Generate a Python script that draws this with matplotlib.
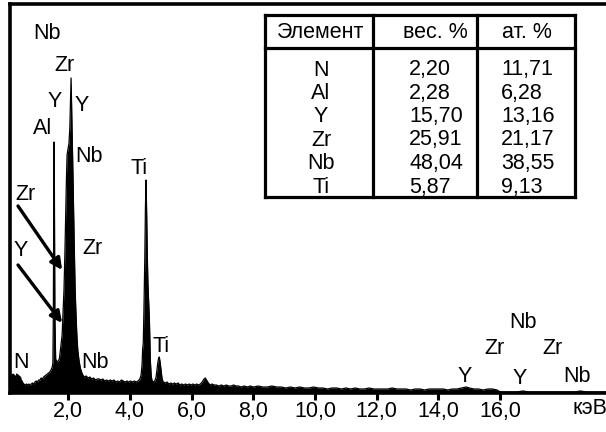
import numpy as np
import matplotlib.pyplot as plt
from matplotlib.patches import Rectangle
from matplotlib.lines import Line2D

plt.rcParams['font.family'] = ['Liberation Sans', 'DejaVu Sans']

# EDX spectrum, energy in keV, counts in arbitrary units
kev_low = [0.10, 0.11, 0.13, 0.15, 0.17, 0.19, 0.21, 0.23, 0.25, 0.27, 0.29, 0.31,
           0.33, 0.35, 0.37, 0.39, 0.41, 0.43, 0.45, 0.47, 0.50, 0.53, 0.56, 0.60,
           0.64, 0.68, 0.72, 0.76, 0.80, 0.84, 0.88, 0.92, 0.96, 1.00, 1.04, 1.08,
           1.12, 1.16, 1.20, 1.24, 1.28, 1.32, 1.36, 1.40, 1.44, 1.48]
cnt_low = [0, 14, 17, 14, 18, 15, 19, 16, 18, 14, 17, 15,
           19, 16, 18, 15, 17, 14, 16, 13, 12, 10, 9, 8,
           9, 8, 9, 8, 9, 10, 9, 11, 12, 11, 13, 13,
           15, 14, 16, 17, 18, 19, 20, 21, 23, 26]

# Al K and the Y/Zr/Nb L group
kev_lgroup = [1.50, 1.515, 1.53, 1.54, 1.55, 1.565, 1.59, 1.63, 1.67, 1.71, 1.74,
              1.77, 1.80, 1.83, 1.86, 1.89, 1.92, 1.94, 1.96, 1.99, 2.02, 2.05,
              2.07, 2.09, 2.105, 2.12, 2.14, 2.16, 2.19, 2.22, 2.25, 2.28, 2.31,
              2.35, 2.39, 2.43, 2.47, 2.52]
cnt_lgroup = [30, 76, 200, 251, 200, 76, 34, 31, 32, 34, 42,
              50, 58, 80, 103, 140, 185, 215, 238, 244, 249, 265,
              290, 315, 291, 265, 238, 203, 150, 105, 78, 56, 42,
              32, 25, 21, 18, 16]

kev_mid = [2.58, 2.64, 2.70, 2.76, 2.82, 2.88, 2.94, 3.00, 3.06, 3.12, 3.18, 3.24,
           3.30, 3.36, 3.42, 3.48, 3.54, 3.60, 3.66, 3.72, 3.78, 3.84, 3.90, 3.96,
           4.02, 4.08, 4.14, 4.20, 4.26, 4.32]
cnt_mid = [17, 15, 16, 14, 15, 13, 14, 14, 13, 14, 12, 13,
           12, 13, 12, 13, 11, 12, 11, 13, 12, 11, 12, 11,
           12, 11, 12, 11, 12, 14]

# Ti K alpha and K beta
kev_ti = [4.36, 4.39, 4.41, 4.43, 4.45, 4.48, 4.50, 4.52, 4.54, 4.56, 4.58, 4.61,
          4.63, 4.66, 4.69, 4.72, 4.76, 4.80, 4.84, 4.87, 4.90, 4.93, 4.95, 4.98,
          5.01, 5.04, 5.08]
cnt_ti = [18, 28, 44, 50, 80, 135, 185, 213, 180, 140, 110, 88,
          72, 32, 16, 12, 11, 12, 15, 22, 30, 35, 36, 30,
          22, 14, 11]

kev_high = [5.14, 5.20, 5.26, 5.32, 5.38, 5.44, 5.50, 5.56, 5.62, 5.68, 5.74, 5.80,
            5.86, 5.92, 5.98, 6.04, 6.10, 6.16, 6.22, 6.28, 6.34, 6.40, 6.44, 6.48,
            6.54, 6.60, 6.66, 6.72, 6.80, 6.88, 6.96, 7.04, 7.12, 7.20, 7.28, 7.36,
            7.44, 7.52, 7.60, 7.70, 7.80, 7.90, 8.00, 8.15, 8.30, 8.45, 8.60, 8.75,
            8.90, 9.05, 9.20, 9.35, 9.50, 9.65, 9.80, 9.95, 10.10, 10.25, 10.40, 10.55,
            10.70, 10.85, 11.00, 11.15, 11.30, 11.45, 11.60, 11.75, 11.90, 12.05, 12.20, 12.35,
            12.50, 12.65, 12.80, 12.95, 13.10, 13.25, 13.40, 13.55, 13.70, 13.85, 14.00, 14.15,
            14.30, 14.45, 14.60, 14.75, 14.90, 15.00, 15.15, 15.30, 15.45, 15.60, 15.75, 15.90,
            16.00, 16.20, 16.50, 16.75, 16.90, 17.20, 17.60, 18.00, 18.40, 18.60, 18.80, 19.43]
cnt_high = [10, 11, 9, 10, 9, 10, 9, 10, 8, 9, 8, 9,
            8, 9, 8, 9, 8, 9, 8, 9, 11, 14, 15, 13,
            10, 8, 9, 8, 8, 7, 8, 7, 8, 7, 7, 8,
            7, 7, 6, 7, 6, 7, 6, 7, 6, 6, 7, 6,
            6, 5, 6, 5, 6, 5, 5, 6, 5, 5, 4, 5,
            5, 4, 5, 4, 5, 4, 4, 5, 4, 4, 4, 4,
            5, 4, 4, 4, 3, 4, 4, 3, 4, 4, 4, 4,
            3, 4, 4, 5, 6, 5, 4, 4, 3, 4, 4, 3,
            1, 1, 1, 2, 1, 1, 1, 1, 1, 2, 1, 1]

kev = np.array(kev_low + kev_lgroup + kev_mid + kev_ti + kev_high)
counts = np.array(cnt_low + cnt_lgroup + cnt_mid + cnt_ti + cnt_high)

tick_kev = [2, 4, 6, 8, 10, 12, 14, 16]

# peak labels: (text, energy, height)
peak_labels = [
    ("Nb", 1.31, 360), ("Zr", 1.89, 328), ("Y", 1.57, 292), ("Y", 2.44, 288),
    ("Al", 1.18, 265), ("Nb", 2.67, 237), ("Zr", 0.60, 199), ("Y", 0.47, 142),
    ("Zr", 2.80, 145), ("N", 0.47, 30), ("Nb", 2.87, 30), ("Ti", 4.29, 225),
    ("Ti", 5.01, 46), ("Nb", 16.74, 71), ("Zr", 15.80, 44), ("Zr", 17.71, 44),
    ("Y", 14.86, 16), ("Y", 16.64, 15), ("Nb", 18.49, 16),
]
# arrows: (start energy, start height, tip energy, tip height)
arrows = [(0.37, 187, 1.80, 123), (0.37, 128, 1.80, 70)]

# composition table
elements = ["N", "Al", "Y", "Zr", "Nb", "Ti"]
wt_pct = ["2,20", "2,28", "15,70", "25,91", "48,04", "5,87"]
at_pct = ["11,71", "6,28", "13,16", "21,17", "38,55", "9,13"]
headers = ["Элемент", "вес. %", "ат. %"]

W, H = 606, 432
fig = plt.figure(figsize=(W / 100, H / 100), dpi=100)
ax = fig.add_axes([9.5 / W, 1 - 393 / H, 1 - 9.5 / W, 389 / H])

ax.fill_between(kev, 0, counts, color="black", lw=0)
ax.plot(kev, counts, color="black", lw=0.9)

ax.set_xlim(0.094, 19.43)
ax.set_ylim(0, 389)
ax.set_yticks([])
ax.set_xticks(tick_kev)
ax.set_xticklabels([f"{v:.1f}".replace(".", ",") for v in tick_kev])
ax.tick_params(axis="x", direction="out", length=5, width=2.2, pad=1.0, labelsize=15.5)
ax.spines["right"].set_visible(False)
for s in ["left", "top", "bottom"]:
    ax.spines[s].set_linewidth(2.6)

for txt, x, y in peak_labels:
    ax.text(x, y, txt, ha="center", va="center", fontsize=15.5)

for x0, y0, x1, y1 in arrows:
    ax.annotate("", xy=(x1, y1), xytext=(x0, y0),
                arrowprops=dict(arrowstyle="-|>", lw=2.4, color="black",
                                mutation_scale=17, shrinkA=0, shrinkB=0))

fig.text(590 / W, 1 - 409 / H, "кэВ", ha="center", va="center", fontsize=15.5)


def fx(px):
    return px / W


def fy(py):
    return 1 - py / H


# table frame
fig.add_artist(Rectangle((fx(265), fy(197)), fx(575) - fx(265), fy(15) - fy(197),
                         transform=fig.transFigure, facecolor="white",
                         edgecolor="none", zorder=2))
tbl_lw = 2.3
tbl_fs = 15.5
head_x = [321, 435, 527]
for txt, x in zip(headers, head_x):
    fig.text(fx(x), fy(32), txt, ha="center", va="center", fontsize=tbl_fs, zorder=3)

row_y = [70, 93.5, 117, 140, 163.5, 188]
for i, y in enumerate(row_y):
    fig.text(fx(321), fy(y), elements[i], ha="center", va="center", fontsize=tbl_fs, zorder=3)
    fig.text(fx(409), fy(y), wt_pct[i], ha="left", va="center", fontsize=tbl_fs, zorder=3)
    fig.text(fx(501), fy(y), at_pct[i], ha="left", va="center", fontsize=tbl_fs, zorder=3)

frame_lines = [
    ([265, 575], [15, 15]), ([265, 575], [197, 197]),
    ([265, 265], [15, 197]), ([575, 575], [15, 197]),
    ([265, 575], [48, 48]),
    ([373, 373], [15, 197]), ([477, 477], [15, 197]),
]
for xs, ys in frame_lines:
    fig.add_artist(Line2D([fx(v) for v in xs], [fy(v) for v in ys],
                          transform=fig.transFigure, color="black",
                          lw=tbl_lw, solid_capstyle="projecting", zorder=4))

fig.savefig("out.png", dpi=100)
